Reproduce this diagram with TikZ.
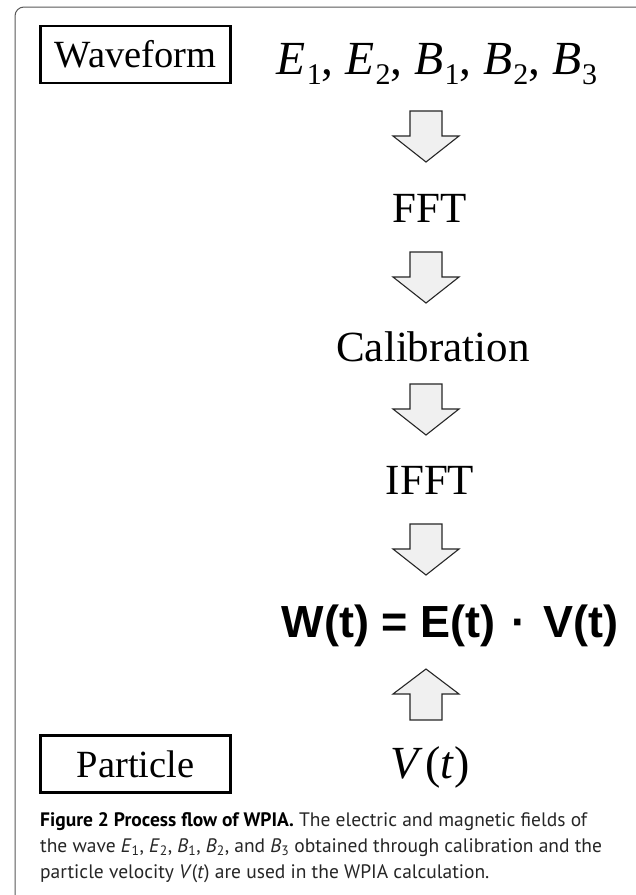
\documentclass[tikz,border=0pt]{standalone}
\usepackage{fontspec}
\setmainfont{Liberation Serif}
\newfontfamily\eqfont{Liberation Sans}
\newfontfamily\capfont{PT Sans}
% field symbol with an upright subscript
\newcommand\fieldsym[2]{\textit{#1}\kern1pt\raisebox{-0.22em}{\fontsize{30}{30}\selectfont #2}}
\begin{document}
\begin{tikzpicture}[x=1pt,y=-1pt,
  labelbox/.style={draw, line width=2.7pt, minimum width=190pt, minimum height=57pt,
    inner sep=0pt, font=\fontsize{38.5}{40}\selectfont},
  steptext/.style={anchor=base, inner sep=0pt, font=\fontsize{43}{46}\selectfont},
  blockarrow/.style={draw=black!85, line width=1.1pt, fill=black!6, line join=miter},
  downarrow/.pic={\draw[blockarrow] (-16,0) -- (16,0) -- (16,25) -- (33,25) -- (0,51)
      -- (-33,25) -- (-16,25) -- cycle;},
  uparrow/.pic={\draw[blockarrow] (-16,0) -- (16,0) -- (16,-26) -- (33,-26) -- (0,-51)
      -- (-33,-26) -- (-16,-26) -- cycle;}]
\useasboundingbox (0,0) rectangle (636,895);
\clip (0,0) rectangle (636,895);
\fill[white] (0,0) rectangle (636,895);

% outer panel frame
\draw[black!65, line width=1pt, rounded corners=9pt] (15,960) -- (15,7) -- (700,7);

% row 1: source data
\node[labelbox] (wave) at (135.5,54.5) {Waveform};
\node[anchor=base, inner sep=0pt, font=\fontsize{47.5}{50}\selectfont] (fields) at (437,74)
  {\fieldsym{E}{1}, \fieldsym{E}{2}, \fieldsym{B}{1}, \fieldsym{B}{2}, \fieldsym{B}{3}};

% processing chain
\node[steptext] (fft) at (430,222) {FFT};
\node[steptext] (cal) at (433,361) {Calibration};
\node[steptext] (ifft) at (430,494) {IFFT};
\node[anchor=base, inner sep=0pt, font=\eqfont\bfseries\fontsize{45}{48}\selectfont] (eq) at (450,637)
  {W(t) = E(t)\hspace{4pt} · \hspace{4pt}V(t)};

% particle side
\node[labelbox] (part) at (135.5,764) {Particle};
\node[anchor=base, inner sep=0pt, font=\fontsize{46}{48}\selectfont] (vel) at (430,778)
  {\textit{V}\kern2pt(\textit{t})};

% block arrows
\coordinate (a1) at (426,111);
\coordinate (a2) at (426,252);
\coordinate (a3) at (426,384);
\coordinate (a4) at (426,524);
\coordinate (a5) at (426,720);
\pic at (a1) {downarrow};
\pic at (a2) {downarrow};
\pic at (a3) {downarrow};
\pic at (a4) {downarrow};
\pic at (a5) {uparrow};

% caption
\node[anchor=north west, inner sep=0pt, align=left, text=black!85,
  font=\capfont\fontsize{19.5}{26}\selectfont] (cap) at (40,812)
  {\textbf{\color{black}Figure 2 Process flow of WPIA.} The electric and magnetic fields of\\
   the wave \textit{E}\textsubscript{1}, \textit{E}\textsubscript{2}, \textit{B}\textsubscript{1}, \textit{B}\textsubscript{2}, and \textit{B}\textsubscript{3} obtained through calibration and the\\
   particle velocity \textit{V}(\textit{t}) are used in the WPIA calculation.};
\end{tikzpicture}
\end{document}
